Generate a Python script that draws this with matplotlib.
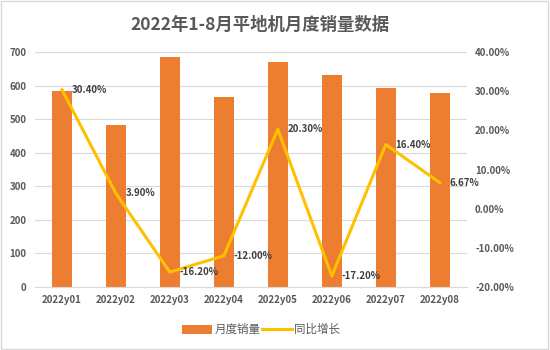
"2022年1-8月平地机月度销量数据 - bar + yoy line."
import matplotlib
matplotlib.use("Agg")
import matplotlib.pyplot as plt
from matplotlib.patches import Rectangle

plt.rcParams['font.family'] = ['Noto Sans CJK SC', 'DejaVu Sans']

months = ["2022y01", "2022y02", "2022y03", "2022y04",
          "2022y05", "2022y06", "2022y07", "2022y08"]
sales = [584, 483, 685, 565, 671, 631, 592, 577]
yoy = [30.40, 3.90, -16.20, -12.00, 20.30, -17.20, 16.40, 6.67]
yoy_labels = ["30.40%", "3.90%", "-16.20%", "-12.00%",
              "20.30%", "-17.20%", "16.40%", "6.67%"]

BAR = "#ED7D31"
LINE = "#FFC000"
TXT = "#595959"

fig = plt.figure(figsize=(5.5, 3.5), dpi=100)
ax = fig.add_axes([0.0636, 0.18, 0.785, 0.671])
ax2 = ax.twinx()

x = list(range(len(months)))
ax.bar(x, sales, width=0.37, color=BAR, zorder=2, label="月度销量")
ax.set_ylim(0, 700)
ax.set_yticks(range(0, 701, 100))
ax.set_xlim(-0.5, len(months) - 0.5)
ax.set_xticks(x)
ax.set_xticklabels(months)
ax.grid(axis="y", color="#D9D9D9", linewidth=0.8, zorder=0)
ax.set_axisbelow(True)

ax2.plot(x, yoy, color=LINE, linewidth=2.2, label="同比增长", zorder=3)
ax2.set_ylim(-20, 40)
ax2.set_yticks(range(-20, 41, 10))
ax2.set_yticklabels([f"{v:.2f}%" for v in range(-20, 41, 10)])
for xi, v, lab in zip(x, yoy, yoy_labels):
    ax2.annotate(lab, (xi, v), xytext=(7, 0), textcoords="offset points",
                 ha="left", va="center", fontsize=7, color="#404040",
                 fontweight="bold")

for a in (ax, ax2):
    for s in a.spines.values():
        s.set_visible(False)
    a.tick_params(length=0, labelsize=7, colors=TXT)
ax.spines["bottom"].set_visible(True)
ax.spines["bottom"].set_color("#D9D9D9")
ax.tick_params(axis="x", pad=6)
ax.tick_params(axis="y", pad=6)
ax2.tick_params(axis="y", pad=6)
for lab in ax.get_xticklabels() + ax.get_yticklabels() + ax2.get_yticklabels():
    lab.set_fontweight("bold")

fig.text(0.472, 0.955, "2022年1-8月平地机月度销量数据", ha="center", va="top",
         fontsize=12.5, fontweight="bold", color=TXT)

h1, l1 = ax.get_legend_handles_labels()
h2, l2 = ax2.get_legend_handles_labels()
fig.legend(h1 + h2, l1 + l2, loc="center", bbox_to_anchor=(0.475, 0.058),
           ncol=2, frameon=False, fontsize=8.3, handlelength=2.6,
           handleheight=0.8, columnspacing=0.1, handletextpad=0.2,
           labelcolor=TXT)

fig.patches.append(Rectangle((0.002, 0.003), 0.995, 0.994, transform=fig.transFigure,
                             fill=False, edgecolor="#D9D9D9", linewidth=1))

fig.savefig("out.png", dpi=100)
